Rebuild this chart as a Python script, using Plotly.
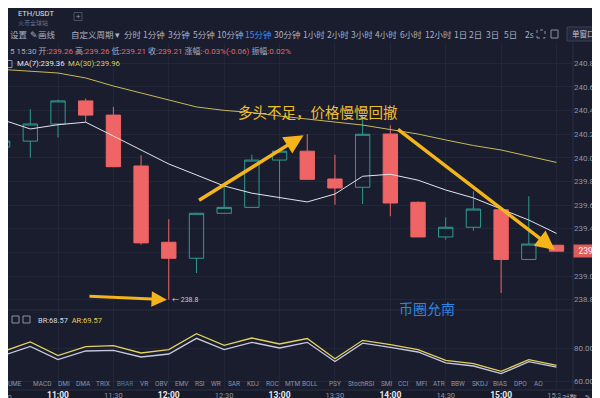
import plotly.graph_objects as go

# ---------------- data ----------------
times = ["2019-12-05 10:30", "2019-12-05 10:45", "2019-12-05 11:00", "2019-12-05 11:15",
         "2019-12-05 11:30", "2019-12-05 11:45", "2019-12-05 12:00", "2019-12-05 12:15",
         "2019-12-05 12:30", "2019-12-05 12:45", "2019-12-05 13:00", "2019-12-05 13:15",
         "2019-12-05 13:30", "2019-12-05 13:45", "2019-12-05 14:00", "2019-12-05 14:15",
         "2019-12-05 14:30", "2019-12-05 14:45", "2019-12-05 15:00", "2019-12-05 15:15",
         "2019-12-05 15:30"]
open_ = [240.09, 240.14, 240.285, 240.48, 240.36, 239.93, 239.285, 239.15, 239.53, 239.58, 239.98,
         240.055, 239.82, 239.75, 240.20, 239.623, 239.33, 239.412, 239.56, 239.14, 239.26]
high = [240.16, 240.41, 240.49, 240.50, 240.43, 240.02, 239.48, 239.535, 239.76, 240.025, 240.06,
        240.20, 240.025, 240.358, 240.274, 239.63, 239.496, 239.716, 239.565, 239.674, 239.26]
low = [240.07, 240.00, 240.17, 240.30, 239.92, 239.265, 238.80, 239.025, 239.53, 239.58, 239.64,
       239.817, 239.603, 239.609, 239.505, 239.33, 239.307, 239.383, 238.856, 239.138, 239.21]
close = [240.14, 240.285, 240.48, 240.36, 239.924, 239.28, 239.15, 239.53, 239.58, 239.98, 240.055,
         239.817, 239.744, 240.198, 239.617, 239.33, 239.412, 239.566, 239.14, 239.27, 239.21]
ma7 = [240.32, 240.243, 240.279, 240.30, 240.183, 240.065, 239.947, 239.854, 239.761, 239.70,
       239.66, 239.626, 239.693, 239.843, 239.86, 239.81, 239.727, 239.66, 239.566, 239.473, 239.36]
ma30 = [240.746, 240.733, 240.716, 240.674, 240.606, 240.547, 240.488, 240.429, 240.40, 240.382,
        240.352, 240.327, 240.302, 240.276, 240.238, 240.20, 240.15, 240.103, 240.065, 240.012, 239.96]
ar = [77.8, 83.6, 75.4, 80.8, 81.4, 77.0, 79.0, 88.6, 81.6, 86.0, 82.4, 85.7, 73.6, 84.6, 82.0,
      79.0, 72.6, 70.6, 66.0, 73.0, 69.57]
br = [75.4, 81.0, 73.0, 78.2, 78.6, 74.6, 76.4, 85.8, 79.0, 83.4, 80.0, 83.4, 71.9, 82.9, 80.4,
      77.6, 71.1, 69.2, 64.6, 71.8, 68.57]

price_ticks = [238.8, 239.0, 239.2, 239.4, 239.6, 239.8, 240.0, 240.2, 240.4, 240.6, 240.8]
ind_ticks = [60, 80]
time_ticks = ["2019-12-05 11:00", "2019-12-05 11:30", "2019-12-05 12:00", "2019-12-05 12:30",
              "2019-12-05 13:00", "2019-12-05 13:30", "2019-12-05 14:00", "2019-12-05 14:30",
              "2019-12-05 15:00", "2019-12-05 15:30"]
periods = ["分时", "1分钟", "3分钟", "5分钟", "10分钟", "15分钟", "30分钟", "1小时", "2小时",
           "3小时", "4小时", "6小时", "12小时", "1日", "2日", "3日", "5日", "2s"]
indicators = ["VOLUME", "MACD", "DMI", "DMA", "TRIX", "BRAR", "VR", "OBV", "EMV", "RSI", "WR",
              "SAR", "KDJ", "ROC", "MTM", "BOLL", "PSY", "StochRSI", "SMI", "CCI", "MFI", "ATR",
              "BBW", "SKDJ", "BIAS", "DPO", "AO"]

# ---------------- style ----------------
W, H = 600, 398
BG = "#1a1d2d"
GRID = "#222638"
TXT = "#9095ab"
RED = "#ef6464"
TEAL = "#2e9d90"
GOLD = "#f4b41a"
FONT = "Roboto, Noto Sans CJK SC, sans-serif"
CJK = "Noto Sans CJK SC, sans-serif"


def X(px):
    return px / W


def Y(py):
    return 1 - py / H


fig = go.Figure()
fig.add_trace(go.Candlestick(
    x=times, open=open_, high=high, low=low, close=close,
    increasing=dict(line=dict(color=TEAL, width=1), fillcolor="rgba(0,0,0,0)"),
    decreasing=dict(line=dict(color=RED, width=1), fillcolor=RED),
    xaxis="x", yaxis="y", hoverinfo="skip", showlegend=False))
fig.add_trace(go.Scatter(x=times, y=ma30, mode="lines", line=dict(color="#c9b95a", width=1),
                         xaxis="x", yaxis="y", hoverinfo="skip", showlegend=False))
fig.add_trace(go.Scatter(x=times, y=ma7, mode="lines", line=dict(color="#e4e4ee", width=1),
                         xaxis="x", yaxis="y", hoverinfo="skip", showlegend=False))
fig.add_trace(go.Scatter(x=times, y=br, mode="lines", line=dict(color="#c6c8e0", width=1.3),
                         xaxis="x2", yaxis="y2", hoverinfo="skip", showlegend=False))
fig.add_trace(go.Scatter(x=times, y=ar, mode="lines", line=dict(color="#e2d25a", width=1.3),
                         xaxis="x2", yaxis="y2", hoverinfo="skip", showlegend=False))

xr = ["2019-12-05 10:32:55", "2019-12-05 15:38:56"]
ttext = []
for t in time_ticks:
    hm = t[-5:]
    if hm.endswith(":00"):
        ttext.append("<b><span style='color:#e8eaf2;font-size:8.5px'>%s</span></b>" % hm)
    else:
        ttext.append(hm)

fig.update_layout(
    width=W, height=H, margin=dict(l=0, r=0, t=0, b=0),
    paper_bgcolor=BG, plot_bgcolor=BG, boxgap=0.26,
    font=dict(family=FONT, color=TXT, size=8),
    xaxis=dict(domain=[0, X(565)], range=xr, anchor="y", showticklabels=False,
               showgrid=True, gridcolor=GRID, gridwidth=1, tickvals=time_ticks,
               zeroline=False, rangeslider=dict(visible=False), fixedrange=True),
    yaxis=dict(domain=[Y(300), Y(35)], range=[238.7295, 240.9696], side="right", anchor="x",
               tickvals=price_ticks, ticktext=["%.2f" % v for v in price_ticks],
               tickfont=dict(size=8, color=TXT), gridcolor=GRID, zeroline=False,
               ticks=""),
    xaxis2=dict(domain=[0, X(565)], range=xr, anchor="y2", matches="x",
                tickvals=time_ticks, ticktext=ttext, tickfont=dict(size=7.5, color=TXT),
                showgrid=True, gridcolor=GRID, zeroline=False, ticks=""),
    yaxis2=dict(domain=[Y(381), Y(300)], range=[55.4, 104.0], side="right", anchor="x2",
                tickvals=ind_ticks, ticktext=["%.2f" % v for v in ind_ticks],
                tickfont=dict(size=8, color=TXT), gridcolor=GRID, zeroline=False,
                ticks=""),
)

shapes = []
# bottom bar
shapes.append(dict(type="rect", xref="paper", yref="paper", x0=0, x1=1, y0=0, y1=Y(382),
                   fillcolor="#171a28", line=dict(width=0), layer="below"))
shapes.append(dict(type="rect", xref="paper", yref="paper", x0=X(276), x1=X(298), y0=0, y1=Y(395),
                   fillcolor="#3a3e54", line=dict(width=0)))
# separators
shapes.append(dict(type="line", xref="paper", yref="paper", x0=X(565), x1=X(565), y0=Y(382), y1=Y(35),
                   line=dict(color="#2c3044", width=1)))
shapes.append(dict(type="line", xref="paper", yref="paper", x0=0, x1=X(565), y0=Y(302), y1=Y(302),
                   line=dict(color="#2a2e42", width=1)))
shapes.append(dict(type="line", xref="paper", yref="paper", x0=0, x1=1, y0=Y(382), y1=Y(382),
                   line=dict(color="#2a2e42", width=1)))
# "+" box
shapes.append(dict(type="rect", xref="paper", yref="paper", x0=X(66), x1=X(74), y0=Y(12.5), y1=Y(4.5),
                   line=dict(color="#4a4f66", width=1)))
# window button
shapes.append(dict(type="rect", xref="paper", yref="paper", x0=X(559), x1=X(596), y0=Y(33), y1=Y(19),
                   fillcolor="#23273a", line=dict(color="#3b4058", width=1)))
# fullscreen icons
shapes.append(dict(type="rect", xref="paper", yref="paper", x0=X(529), x1=X(537), y0=Y(30), y1=Y(22),
                   line=dict(color="#8d92a8", width=1, dash="dot")))
shapes.append(dict(type="rect", xref="paper", yref="paper", x0=X(543), x1=X(550), y0=Y(30), y1=Y(22),
                   line=dict(color="#8d92a8", width=1)))
# small pane icons
for a, b in [(4, 11), (15, 22)]:
    shapes.append(dict(type="rect", xref="paper", yref="paper", x0=X(a), x1=X(b), y0=Y(315), y1=Y(308),
                       line=dict(color="#8d92a8", width=1)))
shapes.append(dict(type="rect", xref="paper", yref="paper", x0=X(-3), x1=X(4), y0=Y(59.5), y1=Y(52.5),
                   line=dict(color="#8d92a8", width=1)))
fig.update_layout(shapes=shapes)

ann = []


def txt(px, py, s, size=8, color=TXT, anchor="left", family=FONT, **kw):
    ann.append(dict(xref="paper", yref="paper", x=X(px), y=Y(py), text=s, showarrow=False,
                    xanchor=anchor, yanchor="middle", font=dict(size=size, color=color, family=family),
                    **kw))


# title
txt(8, 6, "ETH/USDT", size=7.5, color="#dfe2ec")
txt(8, 14, "火币全球站", size=6, color="#6f748a", family=CJK)
txt(70, 8.5, "+", size=8, color="#8d92a8", anchor="center")

# toolbar
tool_x = [114, 133, 158, 183, 207, 235, 264, 293, 317, 341, 365, 390, 415, 444, 459, 476, 494, 515]
txt(0, 26, "设置", size=8.5, color="#aab0c4", family=CJK)
txt(20, 26, "✎画线", size=8.5, color="#aab0c4", family=CJK)
txt(61, 26, "自定义周期 ▾", size=8.5, color="#aab0c4", family=CJK)
for p, x0 in zip(periods, tool_x):
    col = "#3d8ff5" if p == "15分钟" else "#aab0c4"
    txt(x0, 26, p, size=8.5, color=col, family=CJK)
txt(577.5, 26, "单窗口▾", size=7.5, color="#c0c4d4", anchor="center", family=CJK)

# header OHLC
prev = close[-2]
chg = close[-1] - prev
pct = chg / prev * 100
amp = (high[-1] - low[-1]) / prev * 100


def r(s):
    return "<span style='color:#e2686a'>%s</span>" % s


hdr = ("5 15:30 开:%s 高:%s 低:%s 收:%s 涨幅:%s 振幅:%s" %
       (r("%.2f" % open_[-1]), r("%.2f" % high[-1]), r("%.2f" % low[-1]), r("%.2f" % close[-1]),
        r("%.2f%%(%.2f)" % (pct, chg)), r("%.2f%%" % amp)))
txt(0, 43, hdr, size=8, color="#a8adc0", family=FONT)
txt(7, 56, "MA(7):%.2f" % ma7[-1], size=7.8, color="#e4e4ee")
txt(58, 56, "<span style='color:#d8c85c'>MA(30):%.2f</span>" % ma30[-1], size=7.8)
txt(28, 312, "BR:%.2f  <span style='color:#e2d25a'>AR:%.2f</span>" % (br[-1], ar[-1]),
    size=7.5, color="#d6d8e6")

# indicator list
ind_x = [-14, 23, 48, 66, 86, 107, 130, 145, 165, 185, 201, 218, 237, 256, 275, 292, 319, 338,
         371, 388, 406, 423, 441, 462, 483, 504, 524]
for name, x0 in zip(indicators, ind_x):
    col = "#3a78d0" if name == "BRAR" else "#8d92a8"
    txt(x0, 376, name, size=6.5, color=col)

# time axis extras
txt(-5.5, 389, "10:30", size=7.5, color=TXT, anchor="center")
txt(552, 389.5, "对数", size=7.5, color="#a8adc0", family=CJK, bgcolor="#171a28")
txt(575, 389.5, "%", size=7.5, color="#a8adc0")
txt(586, 389.5, "自动", size=7.5, color="#3d8ff5", family=CJK)

# current price tag
ann.append(dict(xref="paper", yref="y", x=X(565), y=close[-1], text="%.2f" % close[-1],
                showarrow=False, xanchor="left", yanchor="middle", bgcolor="#e05b5b",
                width=35, height=12, align="center", borderpad=0,
                font=dict(size=8.5, color="#ffffff", family=FONT)))

# commentary
txt(310, 103, "多头不足，价格慢慢回撤", size=14.5, color="#f0c030", anchor="center", family=CJK)
txt(419, 300, "币圈允南", size=14, color="#2f86e0", anchor="center", family=CJK)
ann.append(dict(xref="x", yref="y", x="2019-12-05 12:00", y=low[6], text="← %.1f" % low[6],
                showarrow=False, xanchor="left", yanchor="middle", xshift=1,
                font=dict(size=7, color="#c8cad8")))

# arrows
ann.append(dict(xref="x", yref="y", x="2019-12-05 13:13", y=240.19, ax=-106, ay=66, text="",
                showarrow=True, arrowhead=2, arrowsize=1.1, arrowwidth=3.5, arrowcolor=GOLD))
ann.append(dict(xref="x", yref="y", x="2019-12-05 15:30", y=239.21, ax=-160, ay=-123, text="",
                showarrow=True, arrowhead=2, arrowsize=1.1, arrowwidth=3.5, arrowcolor=GOLD,
                standoff=2))
ann.append(dict(xref="x", yref="y", x="2019-12-05 11:59", y=238.80, ax=-79, ay=-3.5, text="",
                showarrow=True, arrowhead=2, arrowsize=1.1, arrowwidth=2.8, arrowcolor=GOLD))

fig.update_layout(annotations=ann)
fig.write_html("out.html")
